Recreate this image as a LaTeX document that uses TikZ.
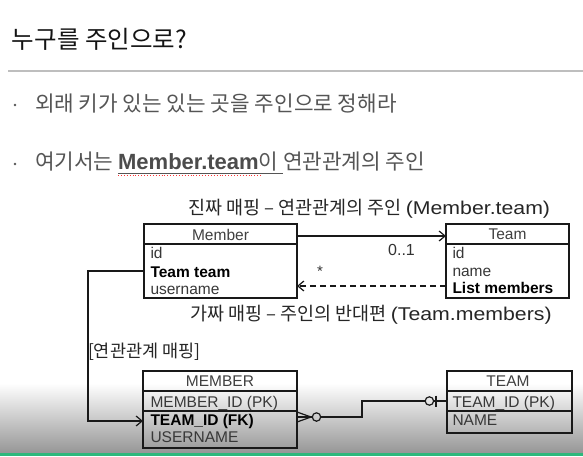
\documentclass[tikz,border=0pt]{standalone}
\usepackage{fontspec}
\setmainfont{Noto Sans CJK KR}
\newfontfamily\lat{Liberation Sans}
\newfontfamily\latw[FakeStretch=1.15]{Liberation Sans}
\usetikzlibrary{arrows.meta}
\definecolor{rulegray}{RGB}{190,190,190}
\definecolor{bodygray}{RGB}{85,85,85}
\definecolor{barGreen}{RGB}{46,184,124}
\definecolor{shadeGray}{RGB}{150,150,150}
\begin{document}
\begin{tikzpicture}[x=1pt,y=-1pt,
  every node/.style={inner sep=0pt,outer sep=0pt},
  tbl/.style={draw=black!90,line width=1.3pt,anchor=north west},
  sep/.style={draw=black!90,line width=1.1pt},
  cell/.style={anchor=base west,font=\lat\fontsize{15.5}{16}\selectfont,text=black!78},
  cellb/.style={cell,font=\lat\bfseries\fontsize{15.5}{16}\selectfont,text=black},
  head/.style={anchor=base,font=\lat\fontsize{15.5}{16}\selectfont,text=black!75},
  lbl/.style={anchor=west,font=\fontsize{18.5}{18.5}\selectfont,text=black!85},
  conn/.style={line width=1.2pt,draw=black!90},
  tip/.style={-{Straight Barb[length=6pt,width=10pt,line width=1.2pt]}},
  bullet/.style={circle,fill=bodygray,minimum size=2.6pt}
]
\useasboundingbox (0,0) rectangle (583,456);
\fill[white] (0,0) rectangle (583,456);
% bottom overlay gradient
\shade[top color=white,bottom color=shadeGray] (0,383) rectangle (583,453);
\fill[barGreen] (0,453) rectangle (583,456);

% title and rule
\node[anchor=west,font=\fontsize{24.5}{24.5}\selectfont,text=black!92] (title) at (12,39) {누구를 주인으로?};
\draw[rulegray,line width=1.4pt] (8,71) -- (583,71);

% bullets
\node[bullet] (dot1) at (15,105) {};
\node[anchor=west,font=\fontsize{21.3}{22}\selectfont,text=bodygray] (b1) at (35,104) {외래 키가 있는 있는 곳을 주인으로 정해라};
\node[bullet] (dot2) at (15,164) {};
\node[anchor=west,font=\fontsize{21.3}{22}\selectfont,text=bodygray] (b2) at (35,162) {여기서는 {\lat\bfseries\fontsize{22}{22}\selectfont\color{black!70}Member.team}이 연관관계의 주인};
\draw[bodygray,line width=0.9pt] (118,173.5) -- (283,173.5);
\draw[red!80,line width=0.9pt,dotted] (118,175.5) -- (262,175.5);

% class boxes
\node[tbl,minimum width=153pt,minimum height=74pt] (Member) at (144,224) {};
\draw[sep] ([yshift=-20pt]Member.north west) -- ([yshift=-20pt]Member.north east);
\node[head] (MemberH) at (220.5,240) {Member};
\node[cell] (m1) at (150.5,258.3) {id};
\node[cellb] (m2) at (150.5,277) {Team team};
\node[cell] (m3) at (150.5,294.3) {username};

\node[tbl,minimum width=123pt,minimum height=74pt] (Team) at (446,224) {};
\draw[sep] ([yshift=-20pt]Team.north west) -- ([yshift=-20pt]Team.north east);
\node[head] (TeamH) at (507.5,239.5) {Team};
\node[cell] (t1) at (452.5,258.3) {id};
\node[cell] (t2) at (452.5,276) {name};
\node[cellb] (t3) at (452.5,293.5) {List members};

% table boxes
\node[tbl,minimum width=154pt,minimum height=77pt] (MEMBER) at (143,371) {};
\draw[sep] ([yshift=-20pt]MEMBER.north west) -- ([yshift=-20pt]MEMBER.north east);
\draw[sep] ([yshift=-40pt]MEMBER.north west) -- ([yshift=-40pt]MEMBER.north east);
\node[head] (MEMBERH) at (220,386.7) {MEMBER};
\node[cell] (r1) at (150.5,407.3) {MEMBER\_ID (PK)};
\node[cellb] (r2) at (150.5,425.3) {TEAM\_ID (FK)};
\node[cell] (r3) at (150.5,442.7) {USERNAME};

\node[tbl,minimum width=125pt,minimum height=62pt] (TEAM) at (447,371) {};
\draw[sep] ([yshift=-20pt]TEAM.north west) -- ([yshift=-20pt]TEAM.north east);
\draw[sep] ([yshift=-40pt]TEAM.north west) -- ([yshift=-40pt]TEAM.north east);
\node[head] (TEAMH) at (508,386.7) {TEAM};
\node[cell] (s1) at (452.5,407.3) {TEAM\_ID (PK)};
\node[cell] (s2) at (452.5,425.3) {NAME};

% labels
\node[lbl] (real) at (188,209) {진짜 매핑 – 연관관계의 주인 {\latw\fontsize{18.5}{18}\selectfont (Member.team)}};
\node[lbl] (fake) at (190,315) {가짜 매핑 – 주인의 반대편 {\latw\fontsize{18.5}{18}\selectfont (Team.members)}};
\node[anchor=west,font=\fontsize{17.5}{17.5}\selectfont,text=black!85] (maplbl) at (88,352) {[연관관계 매핑]};
\node[anchor=base,font=\lat\fontsize{16}{16}\selectfont,text=black!80] (mult1) at (401.5,255.5) {0..1};
\node[anchor=base,font=\lat\fontsize{15}{15}\selectfont,text=black!80] (mult2) at (320,276) {*};

% class connectors
\draw[conn,tip] ([yshift=-12pt]Member.north east) -- ([yshift=-12pt]Team.north west);
\draw[conn,tip,dash pattern=on 6pt off 4pt] ([yshift=12pt]Team.south west) -- ([yshift=12pt]Member.south east);

% mapping connector
\coordinate (bendA) at (88,271);
\coordinate (bendB) at (88,421);
\draw[conn,tip] ([yshift=-47pt]Member.north west) -- (bendA) -- (bendB) -- ([yshift=-50pt]MEMBER.north west);

% crow's foot relation
\coordinate (cf) at ([yshift=-46pt]MEMBER.north east);
\coordinate (tf) at ([yshift=-30pt]TEAM.north west);
\coordinate (jogA) at (362,417);
\coordinate (jogB) at (362,401);
\draw[conn] ([shift={(0,-5)}]cf) -- ([shift={(14,0)}]cf) -- ([shift={(0,5)}]cf);
\draw[conn] (cf) -- ([shift={(15,0)}]cf);
\draw[conn] ([shift={(19.5,0)}]cf) circle (4.2pt);
\draw[conn] ([shift={(23.7,0)}]cf) -- (jogA) -- (jogB) -- ([shift={(-21.8,0)}]tf);
\draw[conn] ([shift={(-17.6,0)}]tf) circle (4.2pt);
\draw[conn] ([shift={(-13.4,0)}]tf) -- (tf);
\draw[conn] ([shift={(-11,-5.5)}]tf) -- ([shift={(-11,5.5)}]tf);
\end{tikzpicture}
\end{document}
